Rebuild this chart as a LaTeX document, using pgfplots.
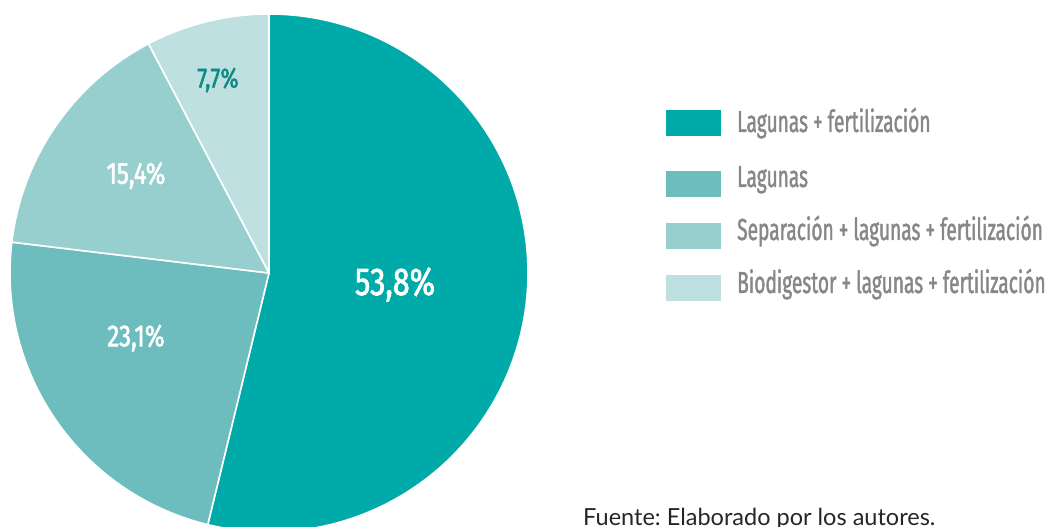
\documentclass[border=0pt]{standalone}
\usepackage{pgfplots}
\pgfplotsset{compat=1.18}
\usepackage{pgfplotstable}
\usepackage{fontspec}
\setmainfont{Fira Sans}
\newfontfamily\cond{Fira Sans}[FakeStretch=0.63, FakeBold=1.3]
\newfontfamily\condp{Fira Sans}[FakeStretch=0.79, FakeBold=1.8]
\newfontfamily\src{Lato}
\frenchspacing
\definecolor{c1}{HTML}{00AAA9}
\definecolor{c2}{HTML}{6DBDBF}
\definecolor{c3}{HTML}{97CFCF}
\definecolor{c4}{HTML}{BFE0E1}
\definecolor{legtxt}{HTML}{87878A}
\definecolor{darklab}{HTML}{0E8B86}
\pgfplotstableread{
value col
53.8 c1
23.1 c2
15.4 c3
7.7 c4
}\piedata
\begin{document}
\begin{tikzpicture}
\useasboundingbox (0,0) rectangle (1049bp,527bp);
\begin{axis}[
  at={(0,0)}, anchor=south west,
  scale only axis, width=1049bp, height=527bp,
  xmin=0, xmax=1049, ymin=0, ymax=527,
  hide axis, clip=true]
\addplot[draw=none] coordinates {(0,0) (1049,527)};
\pgfplotsextra{%
  \xdef\cumang{90}%
  \foreach \i in {0,1,2,3}{%
    \pgfplotstablegetelem{\i}{value}\of\piedata \let\val\pgfplotsretval
    \pgfplotstablegetelem{\i}{col}\of\piedata \let\col\pgfplotsretval
    \pgfmathsetmacro\endang{\cumang-3.6*\val}%
    \fill[fill=\col, draw=white, line width=1.6bp, line join=round]
      (axis cs:269,254) -- ++(\cumang:259bp)
      arc[start angle=\cumang, end angle=\endang, radius=259bp] -- cycle;
    \xdef\cumang{\endang}%
  }%
}
% percentage labels
\node[text=white, font=\condp\fontsize{39}{39}\selectfont] at (axis cs:395,242.5) {53,8\%};
\node[text=white, font=\condp\fontsize{30.5}{30.5}\selectfont] at (axis cs:136,189) {23,1\%};
\node[text=white, font=\condp\fontsize{30.5}{30.5}\selectfont] at (axis cs:136,351.5) {15,4\%};
\node[text=darklab, font=\condp\fontsize{28}{28}\selectfont] at (axis cs:218,447) {7,7\%};
% legend
\fill[c1] (axis cs:666,417) rectangle (axis cs:721,391);
\fill[c2] (axis cs:666,356) rectangle (axis cs:721,330);
\fill[c3] (axis cs:666,304) rectangle (axis cs:721,278);
\fill[c4] (axis cs:666,252) rectangle (axis cs:721,226);
\begin{scope}[every node/.style={anchor=base west, inner sep=0pt, text=legtxt, font=\cond\fontsize{30.5}{30.5}\selectfont}]
\node at (axis cs:737,395) {Lagunas + fertilización};
\node at (axis cs:737,340) {Lagunas};
\node at (axis cs:737,287) {Separación + lagunas + fertilización};
\node at (axis cs:737,234) {Biodigestor + lagunas + fertilización};
\end{scope}
\node[anchor=base west, inner sep=0pt, text=black!85, font=\src\fontsize{23.6}{23.6}\selectfont] at (axis cs:583,1.5) {Fuente: Elaborado por los autores.};
\end{axis}
\end{tikzpicture}
\end{document}
